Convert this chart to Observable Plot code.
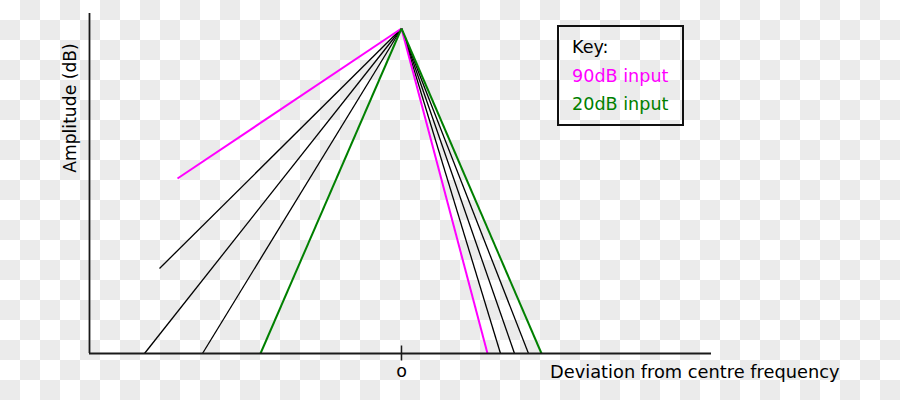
<!DOCTYPE html>
<html>
<head>
<meta charset="utf-8">
<script src="https://cdn.jsdelivr.net/npm/d3@7"></script>
<script src="https://cdn.jsdelivr.net/npm/@observablehq/plot@0.6"></script>
<style>
  html, body { margin: 0; padding: 0; }
  html {
    background-color: #ffffff;
    background-image: url("data:image/svg+xml,%3Csvg xmlns='http://www.w3.org/2000/svg' width='40' height='40'%3E%3Crect x='20' y='0' width='20' height='20' fill='%23ebebeb'/%3E%3Crect x='0' y='20' width='20' height='20' fill='%23ebebeb'/%3E%3C/svg%3E");
    background-size: 40px 40px;
    background-repeat: repeat;
  }
  body {
    width: 900px; height: 400px; overflow: hidden;
    background: transparent;
    font-family: "DejaVu Sans", sans-serif;
  }
  #wrap { position: relative; width: 900px; height: 400px; }
  #wrap svg { background: transparent !important; }
  #key {
    position: absolute; left: 557px; top: 25px; width: 123px; height: 97px;
    border: 2px solid #111; font-size: 17.6px; line-height: 28.5px;
    padding: 0; box-sizing: content-box;
  }
  #key div { margin-left: 13px; }
</style>
</head>
<body>
<div id="wrap"></div>
<script>
// ---- data (deviation from centre frequency, amplitude in chart units) ----
const peakDeviation = 0;
const peakAmplitude = 32.5;
const inputLevel = ["90dB", "mid", "mid", "mid", "20dB"];
const lowerEndDeviation = [-22.4, -24.2, -25.7, -19.9, -14.1];
const lowerEndAmplitude = [17.5, 8.5, 0, 0, 0];
const upperEndDeviation = [8.6, 9.9, 11.3, 12.7, 14.0];
const upperEndAmplitude = [0, 0, 0, 0, 0];
const xDomain = [-31.2, 31.0];
const yDomain = [0, 34];
const centreTick = [0];
const centreTickLabel = "o";
const xLabel = "Deviation from centre frequency";
const yLabel = "Amplitude (dB)";
const keyTitle = "Key:";
const keyEntries = ["90dB input", "20dB input"];

const colorOf = {"90dB": "#ff00ff", "mid": "#000000", "20dB": "#008000"};
const widthOf = {"90dB": 2, "mid": 1.3, "20dB": 2};

const skirts = [];
inputLevel.forEach((lvl, i) => {
  skirts.push({level: lvl, x2: lowerEndDeviation[i], y2: lowerEndAmplitude[i]});
  skirts.push({level: lvl, x2: upperEndDeviation[i], y2: upperEndAmplitude[i]});
});
// draw black first, then coloured on top
skirts.sort((a, b) => (a.level === "mid" ? 0 : 1) - (b.level === "mid" ? 0 : 1));

const chart = Plot.plot({
  width: 900,
  height: 400,
  marginLeft: 89,
  marginRight: 189,
  marginTop: 13,
  marginBottom: 47,
  style: {background: "transparent", fontFamily: "DejaVu Sans, sans-serif", fontSize: "17px", color: "#000"},
  x: {domain: xDomain, axis: null},
  y: {domain: yDomain, axis: null},
  marks: [
    Plot.link(skirts, {
      x1: () => peakDeviation, y1: () => peakAmplitude,
      x2: "x2", y2: "y2",
      stroke: d => colorOf[d.level],
      strokeWidth: d => widthOf[d.level],
      strokeLinecap: "butt"
    }),
    Plot.ruleX([xDomain[0]], {stroke: "#1a1a1a", strokeWidth: 1.8}),
    Plot.ruleY([yDomain[0]], {stroke: "#1a1a1a", strokeWidth: 1.8}),
    Plot.axisX({
      ticks: centreTick, tickFormat: () => centreTickLabel,
      tickSize: 15, dy: -7.5, tickPadding: 4, stroke: "#1a1a1a",
      strokeWidth: 1.5, fontSize: 17.5, label: null
    }),
    Plot.text([xLabel], {
      frameAnchor: "bottom-right", textAnchor: "end", lineAnchor: "bottom",
      dx: 128, dy: 24, fontSize: 17.8, fill: "#000"
    }),
    Plot.text([yLabel], {
      frameAnchor: "top-left", textAnchor: "middle", lineAnchor: "middle",
      rotate: -90, dx: -19, dy: 94.5, fontSize: 17.2, fill: "#000"
    })
  ]
});

const wrap = document.getElementById("wrap");
wrap.appendChild(chart);
const key = document.createElement("div");
key.id = "key";
const t = document.createElement("div");
t.textContent = keyTitle; t.style.marginTop = "6px"; t.style.color = "#000";
key.appendChild(t);
const keyColors = [colorOf["90dB"], colorOf["20dB"]];
keyEntries.forEach((e, i) => {
  const d = document.createElement("div");
  d.textContent = e; d.style.color = keyColors[i];
  key.appendChild(d);
});
wrap.appendChild(key);
</script>
</body>
</html>
